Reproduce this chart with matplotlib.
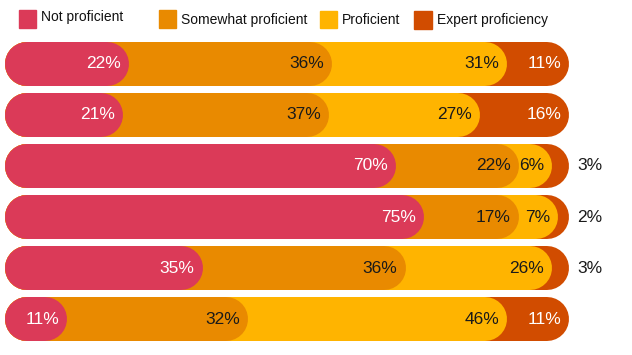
import numpy as np
import matplotlib.pyplot as plt
from matplotlib.patches import Rectangle

plt.rcParams['font.family'] = ['Liberation Sans', 'DejaVu Sans']

# Data
categories = ["Not proficient", "Somewhat proficient", "Proficient", "Expert proficiency"]
not_proficient = [22, 21, 70, 75, 35, 11]
somewhat = [36, 37, 22, 17, 36, 32]
proficient = [31, 27, 6, 7, 26, 46]
expert = [11, 16, 3, 2, 3, 11]

colors = ['#DB3A58', '#E98A00', '#FFB400', '#D14C00']
text_colors = ['white', '#1a1a1a', '#1a1a1a', 'white']

W, H = 632, 355
fig = plt.figure(figsize=(W / 100, H / 100), dpi=100)
ax = fig.add_axes([5.3 / W, 1 - 345 / H, 563.7 / W, 307 / H])
ax.set_xlim(0, 100)
ax.set_ylim(5.5, -0.5)
ax.axis('off')

px = 100 / 563.7          # data units per pixel
bar_h = 44                # bar height in pixels
r = bar_h / 2 * px        # cap radius in data units
lw = bar_h * 72 / 100     # line width in points

series = [not_proficient, somewhat, proficient, expert]
for i in range(len(not_proficient)):
    vals = np.array([s[i] for s in series], dtype=float)
    cum = np.cumsum(vals) / vals.sum() * 100
    # draw from longest (back) to shortest (front)
    for k in reversed(range(4)):
        ax.plot([r, cum[k] - r], [i, i], color=colors[k], lw=lw,
                solid_capstyle='round', clip_on=False)
    for k in range(4):
        label = f"{int(vals[k])}%"
        if k == 3 and vals[k] < 5:
            ax.text(100 + 8 * px, i, label, ha='left', va='center',
                    fontsize=12.5, color='#1a1a1a')
        else:
            ax.text(cum[k] - 8 * px, i, label, ha='right', va='center',
                    fontsize=12.5, color=text_colors[k])

# Legend drawn by hand
legend_pos = [(19, 10, 17, 18, 41, 17), (159, 10, 17, 18, 181, 20),
              (320, 11, 17, 17, 342, 20), (414, 11, 18, 18, 437, 20)]
for (x, y, w, h, tx, ty), c, name in zip(legend_pos, colors, categories):
    fig.patches.append(Rectangle((x / W, 1 - (y + h) / H), w / W, h / H,
                                 transform=fig.transFigure, color=c))
    fig.text(tx / W, 1 - ty / H, name, va='center', ha='left',
             fontsize=10, color='#111111')

fig.savefig("out.png", dpi=100)
